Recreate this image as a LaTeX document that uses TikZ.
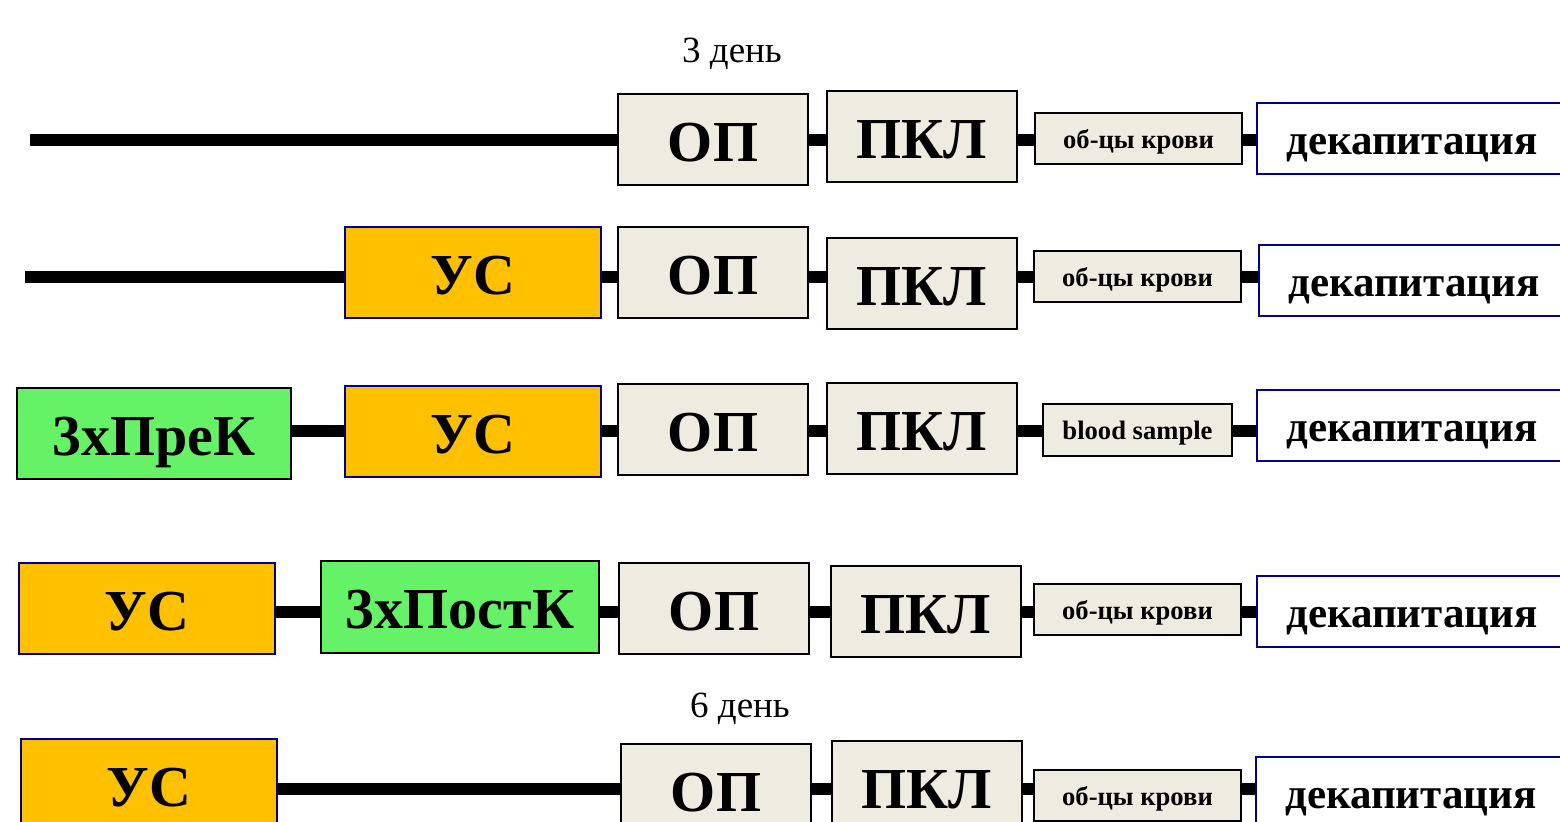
\documentclass[tikz,border=0pt]{standalone}
\usepackage{fontspec}
\setmainfont{Liberation Serif}
\definecolor{boxbeige}{RGB}{238,236,225}
\definecolor{usorange}{RGB}{255,192,0}
\definecolor{cgreen}{RGB}{102,242,102}
\definecolor{framenavy}{RGB}{0,0,140}

\tikzset{
  box/.style={draw, line width=1pt, anchor=north west, inner sep=0pt, text depth=0pt},
  bigtext/.style={font=\bfseries\fontsize{29}{30}\selectfont, text height=21.5pt},
  opbox/.style={box, bigtext, fill=boxbeige, minimum width=95pt, minimum height=45.5pt},
  usbox/.style={box, bigtext, fill=usorange, draw=framenavy, minimum width=128pt, minimum height=45.5pt},
  kbox/.style={box, bigtext, fill=cgreen, minimum height=45.5pt},
  samplebox/.style={box, fill=boxbeige, minimum width=103.5pt, minimum height=25.5pt, text height=9.5pt, font=\bfseries\fontsize{13.3}{14}\selectfont},
  dekbox/.style={box, fill=white, draw=framenavy, minimum width=155pt, minimum height=35.5pt, text height=15.5pt, font=\bfseries\fontsize{21.5}{23}\selectfont},
  bar/.style={line width=6pt},
  daylabel/.style={font=\fontsize{18.5}{20}\selectfont}
}

\begin{document}
\begin{tikzpicture}[x=0.5pt, y=-0.5pt]
  \useasboundingbox (0,0) rectangle (1560,821);
  \clip (0,0) rectangle (1560,821);

  \node[daylabel] (day3) at (732,54) {3 день};
  \node[daylabel] (day6) at (740,709) {6 день};

  % row 1
  \node[opbox] (op1) at (617,93) {ОП};
  \node[opbox] (pkl1) at (826,90) {ПКЛ};
  \node[samplebox] (smp1) at (1034,112) {об-цы крови};
  \node[dekbox] (dek1) at (1256,102) {декапитация};
  \coordinate (r1) at (30,140);
  \draw[bar] (r1) -- (op1.west |- r1);
  \foreach \a/\b in {op1/pkl1, pkl1/smp1, smp1/dek1}
    \draw[bar] (\a.east |- r1) -- (\b.west |- r1);

  % row 2
  \node[usbox] (us2) at (344,226) {УС};
  \node[opbox] (op2) at (617,226) {ОП};
  \node[opbox] (pkl2) at (826,237) {ПКЛ};
  \node[samplebox] (smp2) at (1033,250) {об-цы крови};
  \node[dekbox] (dek2) at (1258,244) {декапитация};
  \coordinate (r2) at (25,277);
  \draw[bar] (r2) -- (us2.west |- r2);
  \foreach \a/\b in {us2/op2, op2/pkl2, pkl2/smp2, smp2/dek2}
    \draw[bar] (\a.east |- r2) -- (\b.west |- r2);

  % row 3
  \node[kbox, minimum width=137pt] (prek3) at (16,387) {3хПреК};
  \node[usbox] (us3) at (344,385) {УС};
  \node[opbox] (op3) at (617,383) {ОП};
  \node[opbox] (pkl3) at (826,382) {ПКЛ};
  \node[samplebox, minimum width=94.5pt, minimum height=26pt] (blood3) at (1042,403) {blood sample};
  \node[dekbox] (dek3) at (1256,389) {декапитация};
  \coordinate (r3) at (0,431);
  \foreach \a/\b in {prek3/us3, us3/op3, op3/pkl3, pkl3/blood3, blood3/dek3}
    \draw[bar] (\a.east |- r3) -- (\b.west |- r3);

  % row 4
  \node[usbox] (us4) at (18,562) {УС};
  \node[kbox, minimum width=139pt, minimum height=46pt] (postk4) at (320,560) {3хПостК};
  \node[opbox] (op4) at (618,562) {ОП};
  \node[opbox] (pkl4) at (830,565) {ПКЛ};
  \node[samplebox] (smp4) at (1033,583) {об-цы крови};
  \node[dekbox] (dek4) at (1256,575) {декапитация};
  \coordinate (r4) at (0,612);
  \foreach \a/\b in {us4/postk4, postk4/op4, op4/pkl4, pkl4/smp4, smp4/dek4}
    \draw[bar] (\a.east |- r4) -- (\b.west |- r4);

  % row 5
  \node[usbox] (us5) at (20,738) {УС};
  \node[opbox] (op5) at (620,743) {ОП};
  \node[opbox] (pkl5) at (831,740) {ПКЛ};
  \node[samplebox] (smp5) at (1033,769) {об-цы крови};
  \node[dekbox] (dek5) at (1255,756) {декапитация};
  \coordinate (r5) at (0,789);
  \foreach \a/\b in {us5/op5, op5/pkl5, pkl5/smp5, smp5/dek5}
    \draw[bar] (\a.east |- r5) -- (\b.west |- r5);

\end{tikzpicture}
\end{document}
